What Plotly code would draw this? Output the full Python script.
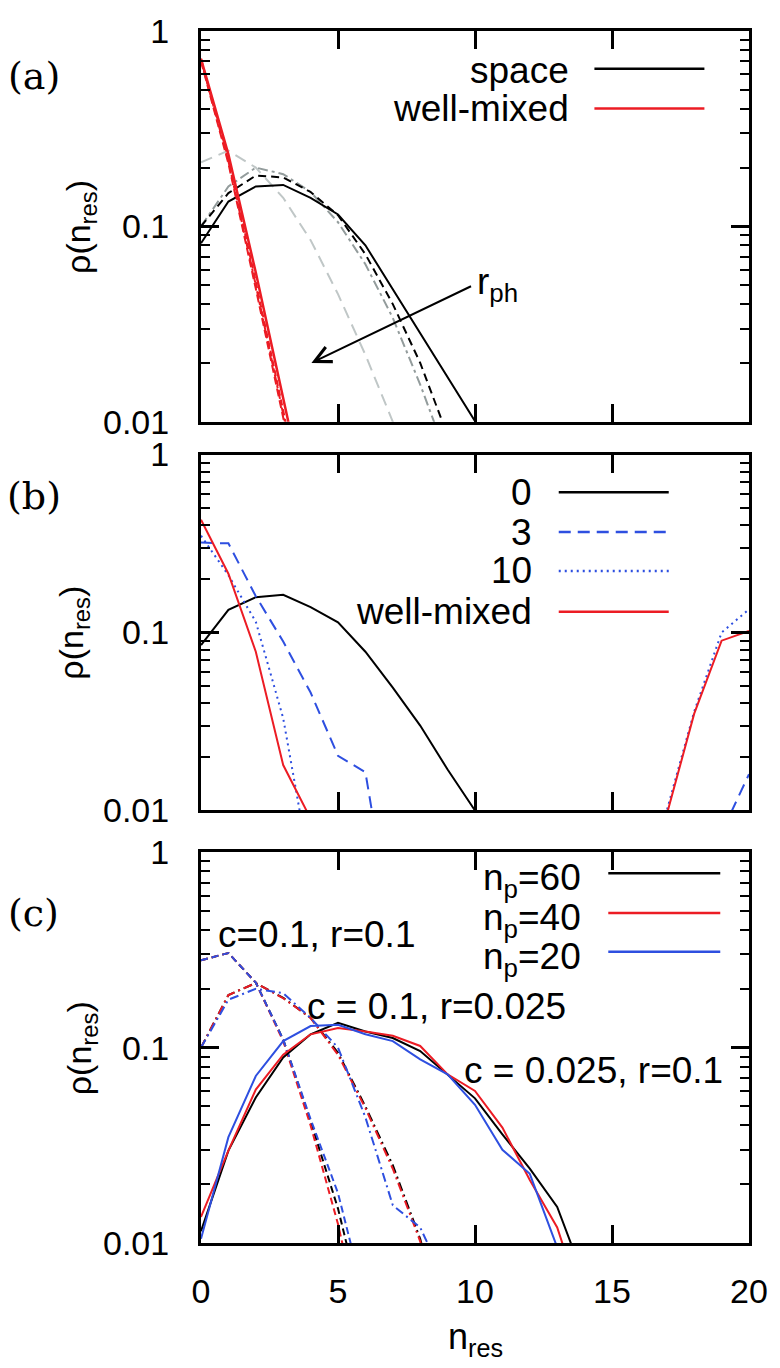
import math
import plotly.graph_objects as go
from plotly.subplots import make_subplots

# ---------------- data ----------------
# panel (a): spatial model (black / grey) and well-mixed (red), x = n_res
a_x_space0 = [0, 1, 2, 3, 4, 5, 6, 7, 8, 9, 10, 11]
a_space0 = [0.082, 0.134, 0.16, 0.163, 0.14, 0.115, 0.08, 0.0475, 0.0283, 0.0168, 0.01, 0.006]
a_x_space1 = [0, 1, 2, 3, 4, 5, 6, 7, 8, 9]
a_space1 = [0.1, 0.148, 0.182, 0.178, 0.15, 0.114, 0.072, 0.04, 0.02, 0.0085]
a_x_space2 = [0, 1, 2, 3, 4, 5, 6, 7, 8, 9]
a_space2 = [0.1, 0.16, 0.2, 0.185, 0.15, 0.105, 0.064, 0.034, 0.0155, 0.0065]
a_x_space3 = [0, 1, 2, 3, 4, 5, 6, 7, 8]
a_space3 = [0.213, 0.244, 0.2, 0.14, 0.085, 0.045, 0.022, 0.01, 0.004]
a_x_wm = [0, 1, 2, 3, 4]
a_wm0 = [0.72, 0.234, 0.058, 0.014, 0.003]
a_wm1 = [0.72, 0.222, 0.052, 0.012, 0.0025]
a_wm2 = [0.71, 0.216, 0.05, 0.0115, 0.0024]
a_wm3 = [0.70, 0.21, 0.048, 0.011, 0.0023]

# panel (b)
b_x0 = [0, 1, 2, 3, 4, 5, 6, 7, 8, 9, 10, 11]
b_r0 = [0.085, 0.134, 0.158, 0.163, 0.139, 0.114, 0.078, 0.049, 0.03, 0.017, 0.01, 0.006]
b_x3 = [0, 1, 2, 3, 4, 5, 6, 7, 18, 19, 20]
b_r3 = [0.32, 0.317, 0.16, 0.089, 0.046, 0.0203, 0.0164, 0.002, 0.002, 0.0075, 0.016]
b_x10 = [0, 1, 2, 3, 4, 16, 17, 18, 19, 20]
b_r10 = [0.35, 0.21, 0.115, 0.033, 0.0045, 0.002, 0.01, 0.036, 0.1, 0.135]
b_xwm = [0, 1, 2, 3, 4, 16, 17, 18, 19, 20]
b_wm = [0.43, 0.214, 0.078, 0.018, 0.009, 0.002, 0.0095, 0.035, 0.09, 0.102]

# panel (c)
c_x = [0, 1, 2, 3, 4, 5, 6, 7, 8, 9, 10, 11, 12, 13, 14]
c_np60 = [0.0115, 0.0297, 0.0556, 0.089, 0.117, 0.134, 0.121, 0.112, 0.096, 0.073, 0.055, 0.036, 0.024, 0.0153, 0.0065]
c_np40 = [0.0136, 0.0297, 0.061, 0.092, 0.117, 0.126, 0.121, 0.115, 0.102, 0.073, 0.06, 0.039, 0.021, 0.012, 0.0045]
c_np20 = [0.0105, 0.0348, 0.0716, 0.108, 0.129, 0.131, 0.117, 0.108, 0.087, 0.073, 0.051, 0.03, 0.0226, 0.0095, 0.003]
c_xd = [0, 1, 2, 3, 4, 5, 6]
c_d60 = [0.28, 0.305, 0.215, 0.11, 0.042, 0.015, 0.004]
c_d40 = [0.28, 0.305, 0.215, 0.108, 0.04, 0.0125, 0.003]
c_d20 = [0.28, 0.305, 0.215, 0.11, 0.043, 0.018, 0.005]
c_xdd = [0, 1, 2, 3, 4, 5, 6, 7, 8, 9]
c_dd60 = [0.1, 0.186, 0.214, 0.18, 0.142, 0.094, 0.05, 0.025, 0.0105, 0.003]
c_dd40 = [0.1, 0.186, 0.214, 0.179, 0.142, 0.092, 0.049, 0.024, 0.0102, 0.003]
c_dd20 = [0.1, 0.176, 0.2, 0.19, 0.142, 0.1, 0.044, 0.0156, 0.012, 0.006]

x_ticks = [0, 5, 10, 15, 20]
y_ticks = [0.01, 0.1, 1]
y_ticktext = ["0.01", "0.1", "1"]
y_minor = [k * 0.01 for k in range(2, 10)] + [k * 0.1 for k in range(2, 10)]

# ---------------- styling ----------------
BLACK = "#000000"
RED = "#ec1c24"
BLUE = "#2e4fe0"
GREY_D = "#939c9c"
GREY_L = "#c0c7c7"
FONT = "Liberation Sans, Arial, sans-serif"
SERIF = "DejaVu Serif, Liberation Serif, serif"

W, H = 780, 1368
L, R, T, B = 201, 754, 24, 1243  # plot region in pixels


def px(x):
    return (x - L) / (R - L)


def py(y):
    return (B - y) / (B - T)


fig = make_subplots(rows=3, cols=1, shared_xaxes=False, vertical_spacing=0.02)

# set domains to match pixel layout
fig.update_layout(
    yaxis=dict(domain=[py(417), py(24)]),
    yaxis2=dict(domain=[py(808), py(450)]),
    yaxis3=dict(domain=[py(1243), py(850)]),
)


def add(x, y, color, dash, row, width=2):
    fig.add_trace(
        go.Scatter(x=x, y=y, mode="lines", line=dict(color=color, width=width, dash=dash),
                   showlegend=False, hoverinfo="skip"),
        row=row, col=1,
    )


# (a)
add(a_x_space3, a_space3, GREY_L, "12px,7px", 1)
add(a_x_space2, a_space2, GREY_D, "10px,4px,3px,4px", 1)
add(a_x_space1, a_space1, BLACK, "8px,5px", 1)
add(a_x_space0, a_space0, BLACK, "solid", 1)
add(a_x_wm, a_wm3, RED, "8px,4px", 1)
add(a_x_wm, a_wm2, RED, "8px,3px,3px,3px", 1)
add(a_x_wm, a_wm1, RED, "6px,4px", 1)
add(a_x_wm, a_wm0, RED, "solid", 1, 2.5)

# (b)
add(b_x0, b_r0, BLACK, "solid", 2)
add(b_x3, b_r3, BLUE, "12px,7px", 2)
add(b_x10, b_r10, BLUE, "2px,4px", 2)
add(b_xwm, b_wm, RED, "solid", 2)

# (c)
add(c_xdd, c_dd60, BLACK, "9px,4px,2px,4px", 3)
add(c_xdd, c_dd40, RED, "9px,4px,2px,4px", 3)
add(c_xdd, c_dd20, BLUE, "9px,4px,2px,4px", 3)
add(c_xd, c_d60, BLACK, "7px,4px", 3)
add(c_xd, c_d40, RED, "7px,4px", 3)
add(c_xd, c_d20, BLUE, "7px,4px", 3)
add(c_x, c_np60, BLACK, "solid", 3)
add(c_x, c_np40, RED, "solid", 3)
add(c_x, c_np20, BLUE, "solid", 3)

axis_common = dict(showline=True, linecolor="black", linewidth=3, mirror="ticks",
                   ticks="inside", ticklen=18, tickwidth=2.5, tickcolor="black",
                   showgrid=False, zeroline=False)

for i in range(1, 4):
    fig.update_xaxes(range=[0, 20], tickmode="array", tickvals=x_ticks,
                     showticklabels=(i == 3), tickfont=dict(family=FONT, size=34, color="black"),
                     ticklabelstandoff=16, row=i, col=1, **axis_common)
    fig.update_yaxes(type="log", range=[-2, 0], tickmode="array", tickvals=y_ticks,
                     ticktext=y_ticktext, tickfont=dict(family=FONT, size=34, color="black"),
                     ticklabelstandoff=22,
                     minor=dict(tickmode="array", tickvals=y_minor, ticks="inside", ticklen=9,
                                tickwidth=2, tickcolor="black", showgrid=False),
                     row=i, col=1, **axis_common)

for ax in ["xaxis", "xaxis2", "xaxis3"]:
    fig.layout[ax].domain = [0, 1]

ann = []
shapes = []


def text(x, y, s, size=37, xanchor="right", family=FONT, angle=0):
    ann.append(dict(x=px(x), y=py(y), xref="paper", yref="paper", text=s, showarrow=False,
                    xanchor=xanchor, yanchor="middle", textangle=angle,
                    font=dict(family=family, size=size, color="black")))


def legline(x0, x1, y, color, dash):
    shapes.append(dict(type="line", xref="paper", yref="paper", x0=px(x0), x1=px(x1),
                       y0=py(y), y1=py(y), line=dict(color=color, width=2.5, dash=dash)))


# legend (a)
text(574, 64, "space")
text(574, 102, "well-mixed")
legline(598, 709, 62, BLACK, "solid")
legline(598, 709, 102, RED, "solid")

# legend (b)
text(537, 488, "0")
text(537, 528, "3")
text(537, 567, "10")
text(537, 608, "well-mixed")
legline(562, 673, 488, BLACK, "solid")
legline(562, 673, 528, BLUE, "12px,7px")
legline(562, 673, 567, BLUE, "2px,4px")
legline(562, 673, 608, RED, "solid")

# legend (c)
text(586, 878, "n<sub>p</sub>=60")
text(586, 918, "n<sub>p</sub>=40")
text(586, 957, "n<sub>p</sub>=20")
legline(612, 725, 871, BLACK, "solid")
legline(612, 725, 911, RED, "solid")
legline(612, 725, 950, BLUE, "solid")

# curve labels (c)
text(216, 933, "c=0.1, r=0.1", xanchor="left")
text(306, 1005, "c = 0.1, r=0.025", xanchor="left")
text(464, 1070, "c = 0.025, r=0.1", xanchor="left")

# r_ph label
text(478, 278, "r<sub>ph</sub>", xanchor="left")

# panel labels
text(32, 69, "(a)", size=38, xanchor="center", family=SERIF)
text(32, 492, "(b)", size=38, xanchor="center", family=SERIF)
text(32, 911, "(c)", size=38, xanchor="center", family=SERIF)

# y titles
text(80, 221, "ρ(n<sub>res</sub>)", size=34, xanchor="center", angle=-90)
text(72, 629, "ρ(n<sub>res</sub>)", size=34, xanchor="center", angle=-90)
text(80, 1047, "ρ(n<sub>res</sub>)", size=34, xanchor="center", angle=-90)

# x title
text(478, 1340, "n<sub>res</sub>", size=36, xanchor="center")

# arrow in (a)
arrow_head = (4.03, 0.02)
arrow_tail = (9.91, 0.0498)
ann.append(dict(x=arrow_head[0], y=math.log10(arrow_head[1]), xref="x", yref="y",
                ax=arrow_tail[0], ay=math.log10(arrow_tail[1]), axref="x", ayref="y",
                text="", showarrow=True, arrowhead=5, arrowsize=1.6, arrowwidth=2,
                arrowcolor="black", standoff=0))

fig.update_layout(
    width=W, height=H,
    margin=dict(l=L, r=W - R, t=T, b=H - B),
    paper_bgcolor="white", plot_bgcolor="white",
    annotations=ann, shapes=shapes,
    showlegend=False,
)

fig.write_html("out.html", config={"displayModeBar": False},
               post_script="document.body.style.margin='0';document.body.style.overflow='hidden';")
